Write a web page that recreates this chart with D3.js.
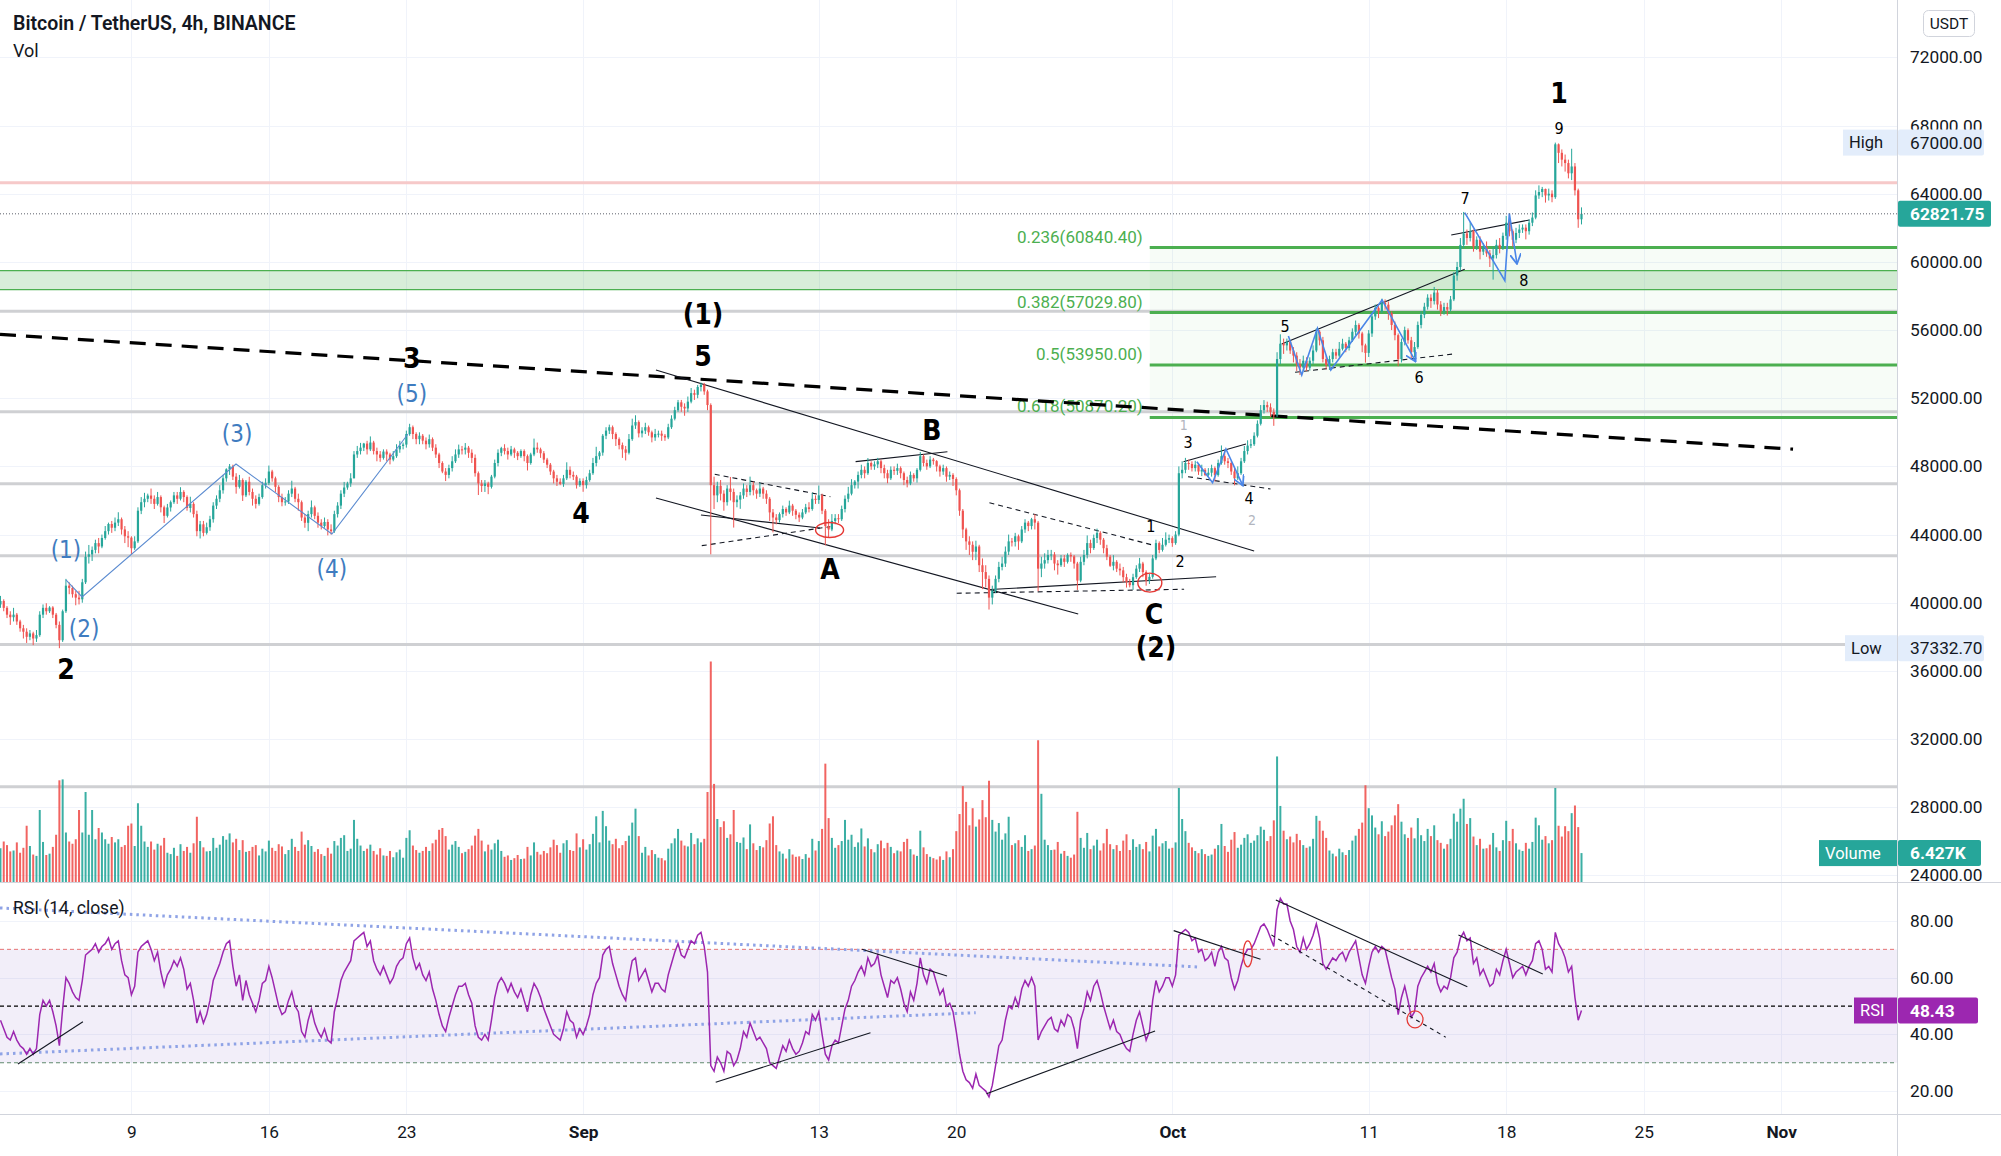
<!DOCTYPE html>
<html><head><meta charset="utf-8">
<script src="https://cdn.jsdelivr.net/npm/d3@7"></script>
<style>
html,body{margin:0;padding:0;background:#fff;overflow:hidden;}
svg{display:block;font-family:Roboto,"Noto Sans",sans-serif;}
</style></head><body>
<svg id="chart" width="2001" height="1156"></svg>
<script>
// ---------------- DATA ----------------
const startTime = "2021-08-02T08:00:00Z"; // first 4h bar
const firstOpen = 39900;
const closes = [
40100,39700,39300,39150,
39300,38900,38500,38300,38000,38200,
37900,38100,39300,39700,39500,39720,
39300,38700,37800,39500,41000,40870,
40500,40300,40200,41200,42700,42840,
43100,43500,43300,43800,44200,44620,
44400,44700,44900,44300,43900,43820,
43200,43600,45400,45900,46100,46290,
46100,45800,46200,45600,45100,45590,
45900,46300,46100,46500,46200,45560,
45800,45200,44200,44600,44100,44430,
44900,45700,46100,46600,47300,47830,
48000,47400,46800,47200,46300,47100,
46500,46100,45800,46200,46900,47020,
47700,47300,46800,46200,45900,45940,
46400,46700,46100,45900,45000,44690,
45200,45600,45100,44700,44500,44740,
44300,44200,45200,45700,46400,46760,
47000,47300,48700,48900,49100,49340,
49000,49400,48900,48700,48500,48870,
48700,48400,48600,49000,49200,49280,
49900,50300,49900,49600,49800,49510,
49300,49600,49100,48700,48200,47700,
47500,47900,48300,48700,49000,48980,
49100,48800,48500,47600,47000,46850,
47000,46800,47400,48200,48800,49070,
48900,48700,49000,48800,48600,48900,
48600,48200,48700,49100,49000,48770,
48400,48100,47700,47300,47100,46970,
47300,47800,47500,47400,46900,47150,
46900,47200,47600,48200,48600,48810,
49800,50100,50300,49900,49600,49250,
49000,48800,49600,50400,50600,49940,
50100,50300,50000,49700,49900,49920,
49800,49700,50300,50800,51300,51760,
51500,51400,51800,52300,52200,52660,
52800,52400,51600,46900,46300,46860,
46400,45900,46700,46500,45900,46050,
46300,46700,46500,46900,46600,46400,
46700,46400,46100,45300,45000,44850,
45200,45500,45300,45700,45400,45160,
45000,45300,45600,45500,46100,46030,
46300,45400,44500,44300,44800,44960,
44900,45500,46100,46400,46900,47110,
47500,47800,47600,48200,48000,48120,
48300,47900,47600,47300,47800,47740,
47900,47600,47200,47000,47500,47300,
47800,48600,48200,48000,48400,48310,
48000,47700,47900,47400,47500,47260,
46600,45400,44300,43600,43400,42990,
43300,42200,41800,41400,40300,40700,
41400,42100,42300,43000,43600,43570,
43900,43600,44300,44700,44500,44900,
44700,42000,42300,42500,42800,42830,
42300,42200,42600,42400,42800,42720,
42300,41300,42400,42800,43500,43210,
43800,44100,43700,43200,42700,42170,
42400,42000,41900,41500,41200,41030,
41500,42000,42300,41800,41300,41520,
42600,43500,43100,43400,43700,43790,
43500,44000,47600,47800,48200,48140,
47900,48100,47700,47800,47500,47630,
47900,47500,48200,48600,48300,48200,
47700,47300,47600,48300,48900,49220,
49300,49800,50500,51300,51600,51470,
51200,51000,54300,55200,55100,55320,
54800,54500,54000,53800,54200,53790,
54200,54800,55900,55400,54300,53950,
54300,54700,54500,54900,55200,54950,
55400,55900,56300,55800,55100,54660,
55800,56800,57300,57100,57600,57490,
57000,56300,55700,54300,55300,56000,
55400,54700,55000,56300,56900,57370,
57900,57700,58200,57500,57100,57350,
57200,57800,59200,59700,61000,61670,
61400,61800,60900,61300,60600,60880,
60500,60200,60400,61000,60800,61530,
62300,61800,61300,61700,61900,62010,
61800,62300,62600,63900,64100,64280,
63900,64000,63800,66900,66400,66000,
65800,65200,65600,64200,62500,62821.75
];
const highs = [
40400,40200,39800,39500,
39700,39400,39000,38700,38500,38400,
38300,38400,39500,39900,39970,39800,
39800,39400,38900,39600,41400,41200,
41000,40700,40700,41400,43000,43390,
43300,43700,43800,44000,44500,44700,
44800,45000,45310,45000,44500,44200,
43900,43900,45600,46200,46450,46400,
46700,46300,46500,46300,45700,45800,
46000,46500,46500,46780,46600,46300,
46220,45900,45400,44800,44800,44700,
45100,45900,46300,46900,47500,47890,
48140,48100,47600,47500,47300,47200,
47390,46700,46300,46400,47100,47300,
48050,47800,47400,46900,46400,46200,
46600,47160,46800,46400,46000,45200,
45400,46000,45700,45300,44900,45000,
44900,44600,45400,45900,46600,47090,
47100,47600,48900,49200,49380,49380,
49500,49760,49500,49100,48900,49000,
49000,48800,48900,49300,49500,49400,
50100,50500,50400,50000,50000,49900,
49700,49870,49700,49300,48800,48300,
47900,48100,48600,49000,49280,49200,
49370,49200,49000,48700,47700,47200,
47200,47100,47500,48400,49000,49150,
49300,49100,49200,49100,48900,49000,
49000,48700,48800,49630,49400,49100,
48900,48500,48200,47800,47500,47300,
47500,48240,48000,47700,47500,47300,
47300,47400,47800,48500,49150,48900,
49900,50300,50450,50400,50000,49700,
49400,49200,49900,50800,51000,50700,
50300,50560,50400,50100,50200,50100,
50100,49900,50500,51000,51500,51900,
51900,51700,52100,52600,52500,52780,
52920,52900,52500,51700,47400,47100,
47200,46600,46900,47380,46700,46300,
46500,47000,46900,47400,47100,46700,
47040,46800,46600,46200,45500,45200,
45300,45700,45600,45990,45800,45500,
45300,45500,45800,45900,46460,46300,
46880,46400,45500,44900,45200,45200,
45200,45700,46300,46800,47250,47200,
47700,48100,48000,48490,48300,48300,
48500,48400,48100,47800,48000,48000,
48160,48000,47700,47400,47700,47600,
47900,48840,48700,48400,48600,48500,
48370,48100,48100,48000,47700,47600,
47360,46700,45500,44400,43900,43600,
43640,43400,42600,42200,41600,41000,
41600,42400,42700,43300,44000,43800,
44100,44000,44500,44900,44800,44980,
45200,44800,42700,42900,43100,43100,
42970,42500,42800,42800,42900,42950,
42800,42400,42700,43100,43950,43700,
44000,44350,44200,43800,43400,42800,
42790,42500,42300,42100,41700,41400,
41700,42200,42630,42400,41900,41700,
42800,43700,43600,43800,44130,44000,
43900,44200,48000,48300,48500,48400,
48300,48330,48200,48100,47900,47900,
48100,48000,48400,49230,48900,48500,
48300,47900,48000,48500,49200,49530,
49600,50000,50700,51600,51890,51800,
51700,51400,54700,55750,55500,55500,
55330,55000,54700,54300,54500,54400,
54400,55100,56100,56000,55600,54500,
54500,54900,54900,55300,55490,55300,
55600,56100,56560,56400,55900,55200,
56000,57000,57500,57400,57840,57800,
57680,57100,56500,55800,55500,56200,
56100,55600,55300,56500,57100,57600,
58100,58100,58530,58400,57700,57600,
57600,58000,59400,60000,61400,62930,
61900,62350,61900,61500,61500,61100,
61200,60700,60900,61300,61400,61720,
62700,62500,61900,62000,62200,62200,
62200,62500,62900,64200,64490,64400,
64300,64300,64200,67000,66950,66600,
66300,66000,66640,65800,64300,63200
];
const lows = [
39700,39500,39100,38700,
38900,38700,38300,37900,37640,37800,
37510,37700,38000,39100,39300,39400,
39100,38500,37332.7,37700,39400,40500,
40300,39850,39900,40000,41100,42300,
42450,42900,42900,43200,43700,44000,
44100,44200,44500,44000,43500,43260,
42840,43100,43500,45200,45600,45900,
45800,45500,45700,45300,44680,45000,
45350,45800,45800,46000,45900,45400,
45300,45000,43900,43770,43900,44000,
44220,44700,45500,45900,46400,47100,
47500,47200,46400,46700,45970,46200,
46300,45700,45530,45700,46100,46700,
46900,47100,46500,45900,45660,45700,
45800,46200,45900,45400,44800,44400,
44200,45000,44900,44400,44300,44400,
43950,44000,44100,45000,45500,46200,
46630,46800,47300,48500,48700,48900,
48700,48900,48700,48300,48270,48400,
48300,48120,48300,48500,48800,49000,
49100,49800,49600,49300,49300,49300,
49000,49100,48900,48500,47900,47600,
47140,47300,47700,48200,48500,48700,
48700,48500,48200,47400,46320,46500,
46500,46370,46700,47300,48000,48600,
48700,48400,48600,48500,48370,48500,
48300,47760,48100,48600,48800,48500,
48200,47900,47500,47000,46850,46900,
46800,47200,47300,47200,46700,46800,
46510,46700,47100,47500,48000,48400,
48630,49600,49900,49600,49200,49000,
48500,48350,48700,49500,50200,49700,
49700,49900,49800,49410,49500,49700,
49500,49500,49600,50200,50700,51200,
51200,50970,51200,51700,51900,52000,
52400,52200,51300,42840,45500,45900,
46000,45400,45700,46000,44410,45600,
45510,46100,46200,46300,46300,46100,
46200,46100,45800,44800,44130,44600,
44710,45000,45100,45200,45100,44900,
44740,44900,45200,45300,45400,45800,
45800,45200,43370,43800,44200,44600,
44680,44800,45300,45900,46300,46700,
46700,47300,47300,47500,47800,47800,
47900,47600,47300,47010,47200,47500,
47500,47300,46900,46770,46900,47100,
47050,47700,48000,47800,47900,48100,
47700,47400,47500,47100,47200,46850,
46300,45100,43800,43100,42800,42500,
42500,41800,40800,40900,39600,39900,
40570,41200,41900,42100,42800,43300,
43300,43100,43500,44100,44200,44300,
44300,40680,41500,42000,42300,42500,
41900,41650,42100,42100,42300,42400,
42000,40750,41200,42200,42600,42900,
43100,43500,43400,42900,42500,42100,
41900,41800,41600,41200,40890,40900,
40750,41400,41800,41500,41000,41100,
41410,42500,42900,43000,43300,43500,
43280,43400,43900,47300,47600,47800,
47700,47700,47500,47430,47430,47400,
47400,47120,47400,48100,48100,47900,
47500,46890,47200,47500,48200,48700,
49070,49200,49700,50400,51100,51200,
50900,50380,50900,54000,54600,54800,
54600,54100,53600,53360,53600,53600,
53620,54000,54700,55100,54100,53700,
53660,54100,54300,54400,54800,54700,
54800,55300,55700,55500,54700,54090,
54420,55600,56600,56700,57000,57200,
56600,56000,55400,53880,54100,55100,
55200,54250,54400,54900,56100,56700,
57200,57300,57500,57200,56820,56900,
56850,57100,57700,58900,59500,60800,
61000,61200,60600,60700,60150,60400,
60300,59700,58960,60200,60500,60700,
61300,61500,60900,61100,61400,61700,
61320,61600,62100,62500,63700,63800,
63480,63600,63500,63700,65800,65600,
65300,64900,64800,63900,62000,62200
];
const volumes = [
7500,9000,8200,6800,
7000,8800,6500,7600,12500,8000,
6100,5800,16000,8900,6000,6300,
7800,10500,22600,22800,11000,9000,
8500,9500,16000,11000,20000,10500,
16000,9500,12000,11000,9500,8500,
10000,8800,9500,7800,8200,12500,
13000,8000,17500,12500,9000,7800,
9000,7200,8500,8100,9800,6500,
6200,7600,5800,8400,6900,7800,
6500,8600,14500,9100,7700,6800,
6900,9800,7600,8300,10200,9400,
10800,8800,9600,7100,9300,6700,
6900,7800,8200,5900,7400,6800,
9200,7600,6900,8400,7900,6200,
7100,9600,7800,6900,11200,8300,
9300,8000,6700,7300,6200,5800,
7600,6300,9100,8100,9800,10400,
6900,7400,13800,9600,8100,6900,
7400,8300,6900,6100,7500,5900,
5800,6900,5500,6600,7200,5400,
9800,11500,8100,7100,6500,6900,
7800,6900,8600,9400,11600,12000,
10200,7200,8300,9100,7800,6400,
6700,7300,8100,10300,11800,9200,
6800,8300,7200,8600,9400,6900,
5600,5900,4900,5300,6000,5100,
5200,7800,5900,8800,6700,6100,
6900,6400,7700,9400,8200,6500,
8600,9300,7100,6900,10800,7700,
9500,7200,8400,10700,14600,8800,
15800,12400,9200,8400,9600,7500,
8200,9100,10300,13200,16300,10200,
6500,7800,5900,7100,6200,5400,
5300,4800,7400,8600,9700,11800,
9200,8100,7900,10900,8400,9700,
8800,9600,20000,49000,21800,14000,
12200,13500,9800,10600,16000,8900,
8700,9900,7300,12800,8600,7100,
8000,7700,9300,13000,14600,8200,
6800,6300,5200,7300,6100,5600,
5700,5100,6200,5400,9600,7000,
9100,11800,26300,14200,9800,7600,
8200,9100,13800,9400,10500,7800,
8800,11900,7900,9700,7300,6600,
8400,9200,7500,8700,7800,6400,
7000,6800,8900,9600,7300,6100,
5800,11400,7700,6200,5600,5300,
5000,5700,4900,6800,5500,7300,
11300,15100,21300,17800,12600,16400,
12300,13900,18200,14400,22500,13800,
11200,13100,9400,10800,14500,8200,
8600,9300,7800,10400,6900,7300,
8100,31500,19600,9400,8200,7100,
7200,8900,6300,6900,5800,5400,
6100,15600,9800,7600,10900,7300,
8100,9400,7000,8600,11800,8400,
7300,8200,6900,9200,10600,7100,
9500,7800,8400,7300,8900,6800,
10300,11800,7900,8600,9100,7400,
7600,8800,20900,14000,11300,8700,
7700,6900,6400,7300,6200,5800,
6100,7400,8200,12900,8000,6700,
9400,11100,7600,8300,9800,10600,
8700,9200,10400,12300,11600,9100,
10200,13700,27900,16900,11400,9500,
10100,8800,10700,9300,8200,7600,
7900,9600,14700,13600,11400,9800,
7000,6300,5700,7400,6600,6000,
7100,9200,10300,11800,13200,21500,
16400,14800,12100,10600,13500,10200,
11200,12600,14800,17300,13400,10600,
9800,12100,9700,14200,10400,9100,
11800,10200,12600,9300,8700,7400,
8400,9600,15200,13400,16300,18500,
12900,14200,10100,8200,9600,7400,
7500,8300,10900,7700,6900,9300,
13600,9100,11800,8600,7200,6900,
8700,7400,8900,14300,12600,9400,
10200,8600,9300,20900,12500,10100,
12400,11300,15300,17000,12200,6427
];
const rsiValues = [
45,42,39,38,
41,38,36,35,33,35,
33,35,47,52,50,52,
48,43,36,49,60,58,
55,53,52,59,68,69,
70,72,69,71,72,74,
70,72,73,66,61,60,
54,57,69,71,72,73,
70,66,69,62,57,61,
63,66,64,67,63,56,
58,52,44,48,44,47,
52,59,62,65,69,72,
73,64,57,61,52,59,
54,51,48,52,58,59,
64,60,55,50,47,48,
52,55,50,48,41,39,
45,49,44,41,39,42,
38,37,48,53,59,62,
64,66,73,74,75,76,
71,73,66,63,61,64,
61,58,60,64,66,67,
72,74,67,63,65,61,
59,62,56,52,47,43,
41,46,50,54,57,57,
58,54,51,43,39,38,
40,38,45,53,58,60,
58,55,58,55,53,56,
52,48,54,58,56,53,
49,46,43,40,39,38,
42,48,45,44,39,42,
40,43,47,54,58,60,
68,70,71,65,61,57,
54,52,60,66,67,59,
61,63,59,55,58,58,
56,55,61,65,69,72,
68,67,70,73,72,75,
76,71,62,29,27,32,
30,27,34,33,29,31,
35,41,39,44,41,38,
39,37,35,30,29,28,
32,36,34,38,35,33,
34,37,41,40,47,45,
48,40,33,31,36,38,
37,43,49,52,57,59,
62,64,61,67,64,65,
68,61,57,53,59,58,
60,56,51,48,55,52,
58,67,61,58,63,62,
58,54,56,50,51,48,
41,33,27,24,23,21,
26,22,21,20,18,22,
29,36,38,45,50,49,
53,50,56,59,57,60,
57,38,41,43,45,46,
42,41,45,43,47,46,
42,35,45,49,55,52,
57,59,55,50,46,42,
45,41,40,37,35,34,
40,45,48,43,38,41,
52,59,55,57,60,60,
57,61,75,76,77,76,
73,74,69,70,66,67,
69,64,69,71,67,66,
60,56,59,64,68,70,
70,72,75,78,79,77,
74,71,84,88,86,86,
80,77,71,69,74,70,
72,75,79,74,65,63,
65,67,66,68,69,66,
69,71,73,67,61,58,
64,69,71,69,71,70,
65,60,56,47,53,57,
52,46,48,57,60,62,
64,62,65,58,55,57,
56,60,67,69,74,76,
73,74,65,67,61,63,
60,57,58,63,61,66,
70,65,60,62,63,64,
61,64,66,72,73,70,
63,64,62,76,72,70,
67,62,64,53,45,48.43
];

const priceTicks = [72000,68000,64000,60000,56000,52000,48000,44000,40000,36000,32000,28000,24000];
const rsiTicks = [80,60,40,20];
const timeTickDates = ["2021-08-09","2021-08-16","2021-08-23","2021-09-01","2021-09-13","2021-09-20","2021-10-01","2021-10-11","2021-10-18","2021-10-25","2021-11-01"];
const timeTickLabels = ["9","16","23","Sep","13","20","Oct","11","18","25","Nov"];
const monthTicks = ["Sep","Oct","Nov"];

const levelLines = [57100, 51200, 46980, 42750, 37550, 29200];
const pinkLevel = 64650;
const greenZone = [58370, 59490];
const fibStart = "2021-09-29T20:24Z";
const fibRatios = ["0.236","0.382","0.5","0.618"];
const fibPrices = [60840.40, 57029.80, 53950.00, 50870.20];

const highValue = 67000.00, lowValue = 37332.70, lastPrice = 62821.75, lastVolume = "6.427K", lastRsi = 48.43;

const trendLine = [["2021-08-02T07:26Z",55747],["2021-11-01T14:30Z",49011]];
const solidLines = [
  [["2021-09-04T17:00Z",53658],["2021-10-05T04:00Z",43038]],
  [["2021-09-04T17:00Z",46148],["2021-09-26T05:00Z",39341]],
  [["2021-09-07T00:00Z",45150],["2021-09-13T01:30Z",44388]],
  [["2021-09-14T21:00Z",48278],["2021-09-19T13:10Z",48864]],
  [["2021-09-21T17:30Z",40773],["2021-10-03T05:30Z",41524]],
  [["2021-10-01T13:40Z",48278],["2021-10-04T18:00Z",49316]],
  [["2021-10-06T13:40Z",55184],["2021-10-15T21:20Z",59567]],
  [["2021-10-15T04:50Z",61579],["2021-10-19T04:30Z",62459]]
];
const dashedLines = [
  [["2021-09-07T16:50Z",47539],["2021-09-13T14:10Z",46224]],
  [["2021-09-07T01:00Z",43349],["2021-09-13T14:00Z",44464]],
  [["2021-09-21T16:30Z",45872],["2021-09-29T23:35Z",43390]],
  [["2021-09-20T00:30Z",40556],["2021-10-01T14:25Z",40791]],
  [["2021-10-01T19:10Z",47397],["2021-10-06T00:00Z",46676]],
  [["2021-10-07T06:00Z",53523],["2021-10-15T07:40Z",54597]]
];
const subWavePath = [["2021-08-05T16:00Z",41340],["2021-08-06T11:45Z",40340],["2021-08-14T07:50Z",48140],["2021-08-19T05:00Z",44030],["2021-08-23T02:00Z",49900]];
const zigzags = [
  [["2021-10-02T06:00Z",48278],["2021-10-03T01:10Z",47045],["2021-10-03T17:30Z",49023],["2021-10-04T14:10Z",46869]],
  [["2021-10-06T21:50Z",55653],["2021-10-07T14:10Z",53365],["2021-10-08T09:20Z",56105],["2021-10-09T01:40Z",53658],["2021-10-11T16:20Z",57765],["2021-10-13T09:20Z",54145]],
  [["2021-10-15T21:20Z",62888],["2021-10-17T22:20Z",58898],["2021-10-18T03:50Z",62853],["2021-10-18T13:10Z",59878]]
];
const priceCircles = [["2021-09-13T13:10Z",44270],["2021-09-29T20:30Z",41178]];

const bigLabels = [
  ["2021-10-20T16:35Z",69911,"1"],["2021-09-07T02:25Z",56885,"(1)"],["2021-09-07T02:25Z",54421,"5"],
  ["2021-08-23T06:45Z",54304,"3"],["2021-08-31T21:20Z",45209,"4"],["2021-08-05T16:00Z",36056,"2"],
  ["2021-09-18T18:15Z",50079,"B"],["2021-09-13T13:40Z",41923,"A"],["2021-09-30T01:30Z",39283,"C"],
  ["2021-09-30T04:00Z",37347,"(2)"]
];
const blueLabels = [
  ["2021-08-05T16:00Z",43096,"(1)"],["2021-08-06T14:10Z",38461,"(2)"],["2021-08-14T09:10Z",49903,"(3)"],
  ["2021-08-19T05:00Z",41982,"(4)"],["2021-08-23T06:45Z",52250,"(5)"]
];
const smallLabels = [
  ["2021-10-20T16:35Z",67799,"9"],["2021-09-29T21:50Z",44446,"1"],["2021-10-01T09:20Z",42392,"2"],
  ["2021-10-01T19:10Z",49375,"3"],["2021-10-04T21:40Z",46090,"4"],["2021-10-06T17:45Z",56181,"5"],
  ["2021-10-13T13:25Z",53189,"6"],["2021-10-15T21:40Z",63692,"7"],["2021-10-18T21:40Z",58880,"8"]
];
const grayLabels = [["2021-10-05T01:30Z",44850,"2"],["2021-10-01T14:00Z",50431,"1"]];

const rsiDotted = [
  [["2021-08-02T07:26Z",84.6],["2021-10-02T07:25Z",63.8]],
  [["2021-08-02T07:26Z",33.1],["2021-09-20T23:45Z",47.65]]
];
const rsiSolid = [
  [["2021-08-03T05:20Z",29.56],["2021-08-06T12:45Z",44.48]],
  [["2021-09-07T18:00Z",23.1],["2021-09-15T15:10Z",40.6]],
  [["2021-09-15T04:50Z",70.0],["2021-09-19T12:40Z",60.6]],
  [["2021-09-21T13:00Z",19.1],["2021-09-30T02:55Z",41.2]],
  [["2021-10-01T01:40Z",76.6],["2021-10-05T11:45Z",66.5]],
  [["2021-10-06T06:30Z",87.4],["2021-10-16T00:30Z",56.8]],
  [["2021-10-15T13:40Z",75.1],["2021-10-19T20:40Z",61.3]]
];
const rsiDashed = [[["2021-10-06T01:00Z",75.1],["2021-10-14T22:05Z",39.0]]];
const rsiCircles = [["2021-10-04T20:10Z",68.4],["2021-10-13T08:35Z",45.3]];

// ---------------- LAYOUT ----------------
const plotRight = 1897, mainBottom = 882, rsiBottom = 1114;
const svg = d3.select("#chart");
const FONT = "Roboto, 'Noto Sans', sans-serif";
const LBL = "'Liberation Sans Narrow','DejaVu Sans Condensed','Roboto Condensed',Roboto,sans-serif";
const up = "#26a69a", down = "#ef5350", textCol = "#131722";

const x = d3.scaleUtc().domain([new Date("2021-08-02T07:26:00Z"), new Date("2021-11-06T21:33:00Z")]).range([0, plotRight]);
const y = d3.scaleLinear().domain([24000, 72000]).range([875.4, 57.4]);
const yVol = d3.scaleLinear().domain([0, 50000]).range([882, 657]);
const yRsi = d3.scaleLinear().domain([20, 80]).range([1091.1, 921]);
const T = s => x(new Date(s));

const t0 = Date.parse(startTime), barMs = 4 * 3600 * 1000;
const bars = closes.map((c, i) => ({
  t: new Date(t0 + i * barMs), o: i === 0 ? firstOpen : closes[i - 1], c,
  h: highs[i], l: lows[i], v: volumes[i], r: rsiValues[i]
}));

const defs = svg.append("defs");
defs.append("clipPath").attr("id", "clipMain").append("rect").attr("x", 0).attr("y", 0).attr("width", plotRight).attr("height", mainBottom);
defs.append("clipPath").attr("id", "clipRsi").append("rect").attr("x", 0).attr("y", mainBottom).attr("width", plotRight).attr("height", rsiBottom - mainBottom);
defs.append("marker").attr("id", "arrowBlue").attr("viewBox", "0 0 10 10").attr("refX", 9).attr("refY", 5)
  .attr("markerWidth", 7).attr("markerHeight", 7).attr("orient", "auto")
  .append("path").attr("d", "M0,0 L9,5 L0,10").attr("fill", "none").attr("stroke", "#4a86e8").attr("stroke-width", 1.6);

svg.append("rect").attr("width", 2001).attr("height", 1156).attr("fill", "#fff");

const gMain = svg.append("g").attr("clip-path", "url(#clipMain)");
const gRsi = svg.append("g").attr("clip-path", "url(#clipRsi)");

// grid
const tickDates = timeTickDates.map(d => new Date(d + "T00:00:00Z"));
gMain.selectAll("line.vg").data(tickDates).join("line")
  .attr("x1", d => Math.round(x(d)) + 0.5).attr("x2", d => Math.round(x(d)) + 0.5)
  .attr("y1", 0).attr("y2", mainBottom).attr("stroke", "#f0f3fa").attr("stroke-width", 1);
gRsi.selectAll("line.vg").data(tickDates).join("line")
  .attr("x1", d => Math.round(x(d)) + 0.5).attr("x2", d => Math.round(x(d)) + 0.5)
  .attr("y1", mainBottom).attr("y2", rsiBottom).attr("stroke", "#f0f3fa").attr("stroke-width", 1);
gMain.selectAll("line.hg").data(priceTicks).join("line")
  .attr("x1", 0).attr("x2", plotRight).attr("y1", d => Math.round(y(d)) + 0.5).attr("y2", d => Math.round(y(d)) + 0.5)
  .attr("stroke", "#f0f3fa");
gRsi.selectAll("line.hg").data(rsiTicks).join("line")
  .attr("x1", 0).attr("x2", plotRight).attr("y1", d => Math.round(yRsi(d)) + 0.5).attr("y2", d => Math.round(yRsi(d)) + 0.5)
  .attr("stroke", "#f0f3fa");

// fib area fill
const fx = T(fibStart);
gMain.append("rect").attr("x", fx).attr("width", plotRight - fx)
  .attr("y", y(fibPrices[0])).attr("height", y(fibPrices[3]) - y(fibPrices[0]))
  .attr("fill", "rgba(76,175,80,0.045)");
// green zone
gMain.append("rect").attr("x", 0).attr("width", plotRight)
  .attr("y", y(greenZone[1])).attr("height", y(greenZone[0]) - y(greenZone[1]))
  .attr("fill", "rgba(76,175,80,0.22)");
gMain.selectAll("line.gz").data(greenZone).join("line")
  .attr("x1", 0).attr("x2", plotRight).attr("y1", d => y(d)).attr("y2", d => y(d))
  .attr("stroke", "#4caf50").attr("stroke-width", 1.2);
// gray levels
gMain.selectAll("line.lvl").data(levelLines).join("line")
  .attr("x1", 0).attr("x2", plotRight).attr("y1", d => y(d)).attr("y2", d => y(d))
  .attr("stroke", "#cfd0d3").attr("stroke-width", 3);
// pink
gMain.append("line").attr("x1", 0).attr("x2", plotRight).attr("y1", y(pinkLevel)).attr("y2", y(pinkLevel))
  .attr("stroke", "#f6c9c9").attr("stroke-width", 3);
// fib lines + labels
gMain.selectAll("line.fib").data(fibPrices).join("line")
  .attr("x1", fx).attr("x2", plotRight).attr("y1", d => y(d)).attr("y2", d => y(d))
  .attr("stroke", "#4caf50").attr("stroke-width", 3);
gMain.selectAll("text.fib").data(fibPrices).join("text")
  .attr("x", fx - 7).attr("y", d => y(d) - 5).attr("text-anchor", "end")
  .attr("font-family", FONT).attr("font-size", 17).attr("fill", "#4caf50")
  .text((d, i) => `${fibRatios[i]}(${d.toFixed(2)})`);

// volume
gMain.selectAll("rect.vol").data(bars).join("rect")
  .attr("x", d => x(d.t) - 1).attr("width", 2)
  .attr("y", d => yVol(d.v)).attr("height", d => yVol(0) - yVol(d.v))
  .attr("fill", d => d.c >= d.o ? up : down).attr("opacity", 0.9);

// trendline (thick dashed)
const line = d3.line().x(d => T(d[0])).y(d => y(d[1]));
gMain.append("path").attr("d", line(trendLine)).attr("fill", "none")
  .attr("stroke", "#000").attr("stroke-width", 3.2).attr("stroke-dasharray", "16,10");

// other lines
gMain.selectAll("path.sl").data(solidLines).join("path").attr("d", line)
  .attr("fill", "none").attr("stroke", "#131722").attr("stroke-width", 1.1);
gMain.selectAll("path.dl").data(dashedLines).join("path").attr("d", line)
  .attr("fill", "none").attr("stroke", "#131722").attr("stroke-width", 1.1).attr("stroke-dasharray", "5,4");

// candles
gMain.selectAll("line.wick").data(bars).join("line")
  .attr("x1", d => x(d.t)).attr("x2", d => x(d.t))
  .attr("y1", d => y(d.h)).attr("y2", d => y(d.l))
  .attr("stroke", d => d.c >= d.o ? up : down).attr("stroke-width", 1);
gMain.selectAll("rect.body").data(bars).join("rect")
  .attr("x", d => x(d.t) - 1.1).attr("width", 2.2)
  .attr("y", d => y(Math.max(d.o, d.c)))
  .attr("height", d => Math.max(1, Math.abs(y(d.o) - y(d.c))))
  .attr("fill", d => d.c >= d.o ? up : down);

// blue sub-wave path
gMain.append("path").attr("d", line(subWavePath)).attr("fill", "none")
  .attr("stroke", "#5b8bd0").attr("stroke-width", 1.1);
gMain.selectAll("path.zz").data(zigzags).join("path").attr("d", line)
  .attr("fill", "none").attr("stroke", "#4a86e8").attr("stroke-width", 1.6)
  .attr("marker-end", "url(#arrowBlue)");
// circles
gMain.append("ellipse").attr("cx", T(priceCircles[0][0])).attr("cy", y(priceCircles[0][1]))
  .attr("rx", 14).attr("ry", 7.5).attr("fill", "none").attr("stroke", "#e53935").attr("stroke-width", 1.4);
gMain.append("ellipse").attr("cx", T(priceCircles[1][0])).attr("cy", y(priceCircles[1][1]))
  .attr("rx", 12).attr("ry", 9.5).attr("fill", "none").attr("stroke", "#e53935").attr("stroke-width", 1.4);

// current price dotted line
gMain.append("line").attr("x1", 0).attr("x2", plotRight).attr("y1", y(lastPrice)).attr("y2", y(lastPrice))
  .attr("stroke", "#5d606b").attr("stroke-width", 1).attr("stroke-dasharray", "1,2");

// labels
function labels(data, size, color, weight) {
  gMain.append("g").selectAll("text").data(data).join("text")
    .attr("x", d => T(d[0])).attr("y", d => y(d[1]))
    .attr("text-anchor", "middle").attr("dominant-baseline", "central")
    .attr("font-family", LBL).attr("font-size", size).attr("font-weight", weight || 400)
    .attr("fill", color).text(d => d[2]);
}
labels(bigLabels, 28, "#000", 700);
labels(blueLabels, 24, "#3f7cc0", 400);
labels(smallLabels, 16, "#000", 400);
labels(grayLabels, 14, "#b2b5be", 400);

// ---------- RSI pane ----------
gRsi.append("rect").attr("x", 0).attr("width", plotRight).attr("y", yRsi(70)).attr("height", yRsi(30) - yRsi(70))
  .attr("fill", "rgba(126,87,194,0.10)");
gRsi.append("line").attr("x1", 0).attr("x2", plotRight).attr("y1", yRsi(70)).attr("y2", yRsi(70))
  .attr("stroke", "#e57373").attr("stroke-width", 1).attr("stroke-dasharray", "4,3");
gRsi.append("line").attr("x1", 0).attr("x2", plotRight).attr("y1", yRsi(30)).attr("y2", yRsi(30))
  .attr("stroke", "#5f8a6e").attr("stroke-width", 1).attr("stroke-dasharray", "4,3");
gRsi.append("line").attr("x1", 0).attr("x2", plotRight).attr("y1", yRsi(50)).attr("y2", yRsi(50))
  .attr("stroke", "#000").attr("stroke-width", 1.2).attr("stroke-dasharray", "4,3");
const rline = d3.line().x(d => T(d[0])).y(d => yRsi(d[1]));
gRsi.selectAll("path.rd").data(rsiDotted).join("path").attr("d", rline)
  .attr("fill", "none").attr("stroke", "#8fa3e6").attr("stroke-width", 3).attr("stroke-dasharray", "2.5,4");
gRsi.append("path").datum(bars).attr("d", d3.line().x(d => x(d.t)).y(d => yRsi(d.r)))
  .attr("fill", "none").attr("stroke", "#9c27b0").attr("stroke-width", 1.5);
gRsi.selectAll("path.rs").data(rsiSolid).join("path").attr("d", rline)
  .attr("fill", "none").attr("stroke", "#131722").attr("stroke-width", 1.1);
gRsi.selectAll("path.rds").data(rsiDashed).join("path").attr("d", rline)
  .attr("fill", "none").attr("stroke", "#131722").attr("stroke-width", 1.1).attr("stroke-dasharray", "4,4");
gRsi.append("ellipse").attr("cx", T(rsiCircles[0][0])).attr("cy", yRsi(rsiCircles[0][1]))
  .attr("rx", 4.5).attr("ry", 13).attr("fill", "none").attr("stroke", "#e53935").attr("stroke-width", 1.3);
gRsi.append("ellipse").attr("cx", T(rsiCircles[1][0])).attr("cy", yRsi(rsiCircles[1][1]))
  .attr("rx", 8).attr("ry", 8.5).attr("fill", "none").attr("stroke", "#e53935").attr("stroke-width", 1.3);

// ---------- separators ----------
svg.append("line").attr("x1", 0).attr("x2", 2001).attr("y1", mainBottom + 0.5).attr("y2", mainBottom + 0.5).attr("stroke", "#d1d4dc");
svg.append("line").attr("x1", 0).attr("x2", 2001).attr("y1", rsiBottom + 0.5).attr("y2", rsiBottom + 0.5).attr("stroke", "#d1d4dc");
svg.append("line").attr("x1", plotRight + 0.5).attr("x2", plotRight + 0.5).attr("y1", 0).attr("y2", 1156).attr("stroke", "#d1d4dc");

// ---------- axes ----------
const axP = svg.append("g").attr("transform", `translate(${plotRight},0)`)
  .call(d3.axisRight(y).tickValues(priceTicks).tickFormat(d => d.toFixed(2)).tickSize(0).tickPadding(13));
const axR = svg.append("g").attr("transform", `translate(${plotRight},0)`)
  .call(d3.axisRight(yRsi).tickValues(rsiTicks).tickFormat(d => d.toFixed(2)).tickSize(0).tickPadding(13));
const axT = svg.append("g").attr("transform", `translate(0,${rsiBottom})`)
  .call(d3.axisBottom(x).tickValues(tickDates).tickFormat((d, i) => timeTickLabels[i]).tickSize(0).tickPadding(12));
[axP, axR, axT].forEach(a => {
  a.select(".domain").remove();
  a.selectAll("text").attr("font-family", FONT).attr("font-size", 17.3).attr("fill", textCol);
});
axT.selectAll("text").attr("font-weight", (d, i) => monthTicks.includes(timeTickLabels[i]) ? 700 : 400);

// ---------- scale labels ----------
function tag(cy, labelText, valueText, fill, tcol, lx, vx2, bold) {
  const h = 26;
  if (labelText) {
    svg.append("rect").attr("x", lx).attr("y", cy - h / 2).attr("width", plotRight - lx).attr("height", h).attr("fill", fill);
    svg.append("text").attr("x", lx + 6).attr("y", cy).attr("dominant-baseline", "central")
      .attr("font-family", FONT).attr("font-size", 16.5).attr("fill", tcol).text(labelText);
  }
  svg.append("rect").attr("x", plotRight + 1).attr("y", cy - h / 2).attr("width", vx2 - plotRight - 1).attr("height", h)
    .attr("rx", 2).attr("fill", fill);
  svg.append("text").attr("x", plotRight + 13).attr("y", cy).attr("dominant-baseline", "central")
    .attr("font-family", FONT).attr("font-size", 17.3).attr("font-weight", bold ? 700 : 400).attr("fill", tcol).text(valueText);
}
tag(y(highValue), "High", highValue.toFixed(2), "#e3edfb", textCol, 1843, 1984, false);
tag(y(lowValue), "Low", lowValue.toFixed(2), "#e3edfb", textCol, 1845, 1984, false);
tag(y(lastPrice), null, lastPrice.toFixed(2), up, "#fff", 0, 1991, true);
tag(yVol(6427), "Volume", lastVolume, up, "#fff", 1819, 1981, true);
tag(yRsi(lastRsi), "RSI", lastRsi.toFixed(2), "#9c27b0", "#fff", 1854, 1978, true);

// USDT box
svg.append("rect").attr("x", 1923.5).attr("y", 10.5).attr("width", 51).attr("height", 26).attr("rx", 5)
  .attr("fill", "#fff").attr("stroke", "#d1d4dc");
svg.append("text").attr("x", 1949).attr("y", 24).attr("text-anchor", "middle").attr("dominant-baseline", "central")
  .attr("font-family", FONT).attr("font-size", 15.5).attr("fill", textCol).text("USDT");

// titles
svg.append("text").attr("x", 13).attr("y", 30).attr("font-family", FONT).attr("font-size", 19.5)
  .attr("font-weight", 600).attr("fill", textCol).text("Bitcoin / TetherUS, 4h, BINANCE");
svg.append("text").attr("x", 13).attr("y", 57).attr("font-family", FONT).attr("font-size", 18)
  .attr("fill", textCol).text("Vol");
svg.append("text").attr("x", 13).attr("y", 914).attr("font-family", FONT).attr("font-size", 17.5)
  .attr("fill", textCol).text("RSI (14, close)");
</script>
</body></html>
